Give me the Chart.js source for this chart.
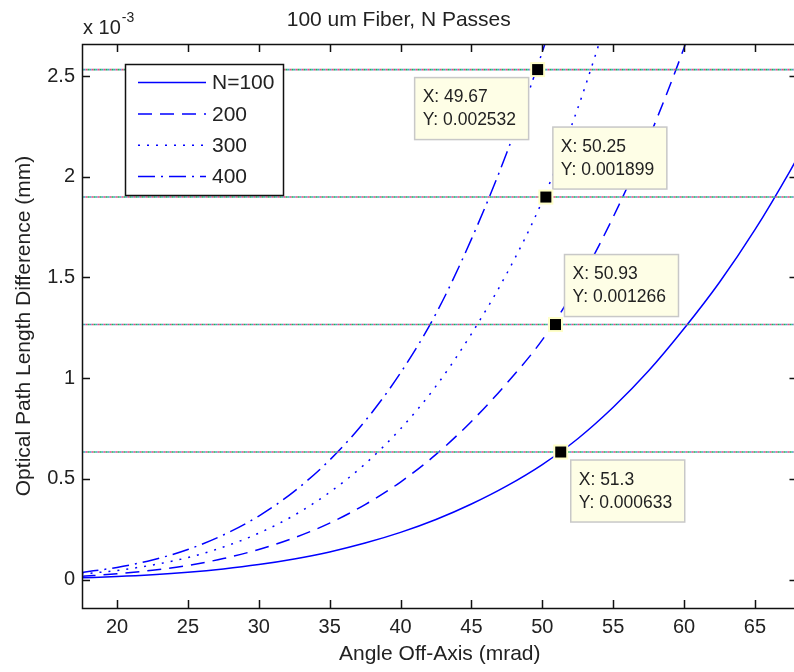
<!DOCTYPE html>
<html><head><meta charset="utf-8">
<script src="https://cdn.jsdelivr.net/npm/chart.js@4.4.1/dist/chart.umd.min.js"></script>
<style>
html,body{margin:0;padding:0;overflow:hidden;background:#fff;width:794px;height:672px}
#wrap{position:absolute;left:0;top:0;width:800px;height:672px}
</style>
</head><body><div id="wrap"><canvas id="c" width="800" height="672"></canvas></div>
<script>
// Angle off-axis (mrad)
const angle  = [17.5, 20, 22.5, 25, 27.5, 30, 32.5, 35, 37.5, 40, 42.5, 45, 47.5, 50, 52.5, 55, 57.5, 60, 62.5, 65, 67.5, 68.5];
// Optical path length difference, units of 1e-3 mm
const opd100 = [0.0086, 0.0146, 0.0234, 0.0357, 0.0523, 0.074, 0.102, 0.137, 0.181, 0.234, 0.298, 0.375, 0.465, 0.571, 0.699, 0.855, 1.036, 1.246, 1.476, 1.737, 2.032, 2.16];
const opd200 = [0.016, 0.028, 0.046, 0.070, 0.104, 0.149, 0.207, 0.280, 0.372, 0.484, 0.621, 0.785, 0.975, 1.19, 1.465, 1.80, 2.19, 2.64, 3.15, null, null, null];
const opd300 = [0.027, 0.045, 0.072, 0.109, 0.161, 0.230, 0.319, 0.433, 0.574, 0.748, 0.960, 1.22, 1.52, 1.88, 2.34, 2.88, null, null, null, null, null, null];
const opd400 = [0.035, 0.060, 0.097, 0.149, 0.221, 0.315, 0.438, 0.593, 0.787, 1.026, 1.320, 1.69, 2.12, 2.62, 3.18, null, null, null, null, null, null, null];
const seriesNames = ['N=100', '200', '300', '400'];
const xTicks = [20, 25, 30, 35, 40, 45, 50, 55, 60, 65];
const yTicks = [0, 0.5, 1, 1.5, 2, 2.5];
// data tips (mm)
const tipX = [49.67, 50.25, 50.93, 51.3];
const tipY = [0.002532, 0.001899, 0.001266, 0.000633];

const FONT = "'Liberation Sans', Arial, sans-serif";
const TXT = '#222';
const curves = [opd100, opd200, opd300, opd400];
const dashes = [[], [14, 8], [2, 7], [17, 6, 2, 6]];

const datasets = [];
curves.forEach((arr, i) => {
  datasets.push({
    label: seriesNames[i],
    data: angle.map((a, j) => ({x: a, y: arr[j]})).filter(p => p.y !== null),
    borderColor: '#0000ff', borderWidth: 1.5, borderDash: dashes[i],
    pointRadius: 0, fill: false, cubicInterpolationMode: 'monotone', order: 3
  });
});
const threshColors = ['#1fae5a', '#ee3f86', '#3aa6c8'];
tipY.forEach(v => {
  const pts = [{x: angle[0], y: v * 1000}, {x: angle[angle.length - 1], y: v * 1000}];
  threshColors.forEach((c, k) => {
    datasets.push({data: pts, borderColor: c, borderWidth: 1.6, borderDash: [2, 4], borderDashOffset: 2 * k, pointRadius: 0, order: 0});
  });
});

const tipBoxes = [ // offsets of info box relative to marker (style)
  {dx: -123, dy: 8}, {dx: 7, dy: -70}, {dx: 9, dy: -70}, {dx: 10, dy: 8}
];

const overlay = {
  id: 'overlay',
  afterDraw(chart) {
    const {ctx, chartArea: a, scales: {x, y}} = chart;
    ctx.save();
    // inward ticks and box
    ctx.strokeStyle = '#111'; ctx.lineWidth = 1.5;
    ctx.beginPath();
    xTicks.forEach(v => {
      const px = Math.round(x.getPixelForValue(v)) + 0.5;
      ctx.moveTo(px, a.bottom); ctx.lineTo(px, a.bottom - 8);
      ctx.moveTo(px, a.top); ctx.lineTo(px, a.top + 8);
    });
    yTicks.forEach(v => {
      const py = Math.round(y.getPixelForValue(v)) + 0.5;
      ctx.moveTo(a.left, py); ctx.lineTo(a.left + 8, py);
      ctx.moveTo(a.right, py); ctx.lineTo(a.right - 8, py);
    });
    ctx.stroke();
    ctx.strokeRect(a.left + 0.5, a.top + 0.5, a.right - a.left, a.bottom - a.top);

    // exponent label
    ctx.fillStyle = TXT; ctx.textBaseline = 'alphabetic'; ctx.textAlign = 'left';
    ctx.font = '20px ' + FONT;
    ctx.fillText('x 10', a.left + 1, 34);
    const w = ctx.measureText('x 10').width;
    ctx.font = '14px ' + FONT;
    ctx.fillText('-3', a.left + 1 + w + 1, 22);

    // legend
    const lx = a.left + 43, ly = a.top + 20, lw = 158, lh = 131;
    ctx.fillStyle = '#fff'; ctx.fillRect(lx, ly, lw, lh);
    ctx.strokeStyle = '#111'; ctx.lineWidth = 1.5; ctx.strokeRect(lx + 0.5, ly + 0.5, lw, lh);
    seriesNames.forEach((name, i) => {
      const cy = ly + 18.6 + i * 31.3;
      ctx.strokeStyle = '#0000ff'; ctx.lineWidth = 1.5; ctx.setLineDash(dashes[i]);
      ctx.beginPath(); ctx.moveTo(lx + 13, cy); ctx.lineTo(lx + 81, cy); ctx.stroke();
      ctx.setLineDash([]);
      ctx.fillStyle = TXT; ctx.font = '21px ' + FONT; ctx.textBaseline = 'middle';
      ctx.fillText(name, lx + 87, cy + 1);
    });

    // data tips
    tipX.forEach((tx, i) => {
      const px = x.getPixelForValue(tx), py = y.getPixelForValue(tipY[i] * 1000);
      const bx = px + tipBoxes[i].dx, by = py + tipBoxes[i].dy, bw = 114, bh = 62;
      ctx.fillStyle = '#fefee6'; ctx.fillRect(bx, by, bw, bh);
      ctx.strokeStyle = '#c8c8c8'; ctx.lineWidth = 1.5; ctx.strokeRect(bx, by, bw, bh);
      ctx.fillStyle = TXT; ctx.font = '17.5px ' + FONT; ctx.textBaseline = 'middle';
      ctx.fillText('X: ' + tx, bx + 8, by + 20);
      ctx.fillText('Y: ' + tipY[i].toFixed(6), bx + 8, by + 43);
      ctx.fillStyle = '#ffffc8'; ctx.fillRect(px - 7.5, py - 7.5, 15, 15);
      ctx.fillStyle = '#000'; ctx.fillRect(px - 5.5, py - 5.5, 11, 11);
    });
    ctx.restore();
  }
};

new Chart(document.getElementById('c'), {
  type: 'line',
  data: {datasets},
  plugins: [overlay],
  options: {
    responsive: false, animation: false, devicePixelRatio: 1,
    layout: {padding: {left: 0, right: 2.5, top: 0, bottom: 0}},
    plugins: {
      legend: {display: false}, tooltip: {enabled: false},
      title: {display: true, text: '100 um Fiber, N Passes', color: TXT,
        font: {family: FONT, size: 21, weight: 'normal'}, padding: {top: 7.4, bottom: 11.4}}
    },
    scales: {
      x: {
        type: 'linear', min: 17.531, max: 68.0,
        grid: {display: false, drawTicks: false}, border: {display: false},
        afterBuildTicks: s => { s.ticks = xTicks.map(v => ({value: v})); },
        ticks: {color: TXT, font: {family: FONT, size: 20}, padding: 7, maxRotation: 0, callback: v => String(v)},
        title: {display: true, text: 'Angle Off-Axis (mrad)', color: TXT, font: {family: FONT, size: 21}, padding: {top: 0, bottom: 5}},
        afterFit: s => { s.height = 64; }
      },
      y: {
        type: 'linear', min: -0.1415, max: 2.659,
        grid: {display: false, drawTicks: false}, border: {display: false},
        afterBuildTicks: s => { s.ticks = yTicks.map(v => ({value: v})); },
        ticks: {color: TXT, font: {family: FONT, size: 20}, padding: 7, callback: v => String(v)},
        title: {display: true, text: 'Optical Path Length Difference (mm)', color: TXT, font: {family: FONT, size: 21}, padding: {top: 12, bottom: 0}},
        afterFit: s => { s.width = 82; }
      }
    }
  }
});
</script></body></html>
